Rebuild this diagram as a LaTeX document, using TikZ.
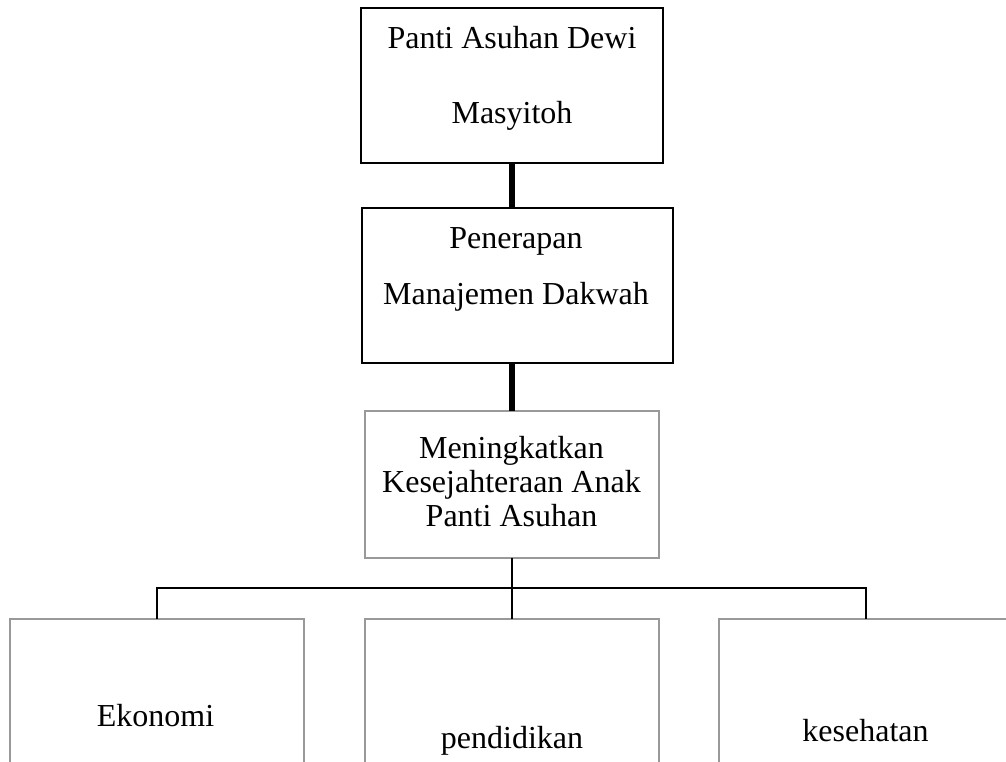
\documentclass[tikz,border=0pt]{standalone}
\usepackage{fontspec}
\setmainfont{Liberation Serif}
\begin{document}
\begin{tikzpicture}[x=0.75pt,y=-0.75pt,
  blackbox/.style={draw=black, line width=1.1pt, inner sep=0pt, outer sep=0pt, rectangle},
  graybox/.style={draw=black!40, line width=0.9pt, inner sep=0pt, outer sep=0pt, rectangle},
  label/.style={align=center, inner sep=0pt, anchor=base},
  thickline/.style={line width=3.9pt},
  thinline/.style={line width=1.7pt}]
\path[use as bounding box] (0,0) rectangle (1006,761);
\clip (0,0) rectangle (1006,761);
% boxes
\node[blackbox, minimum width=226.5pt, minimum height=116.25pt] (b1) at (512,85.5) {};
\node[blackbox, minimum width=233.25pt, minimum height=116.25pt] (b2) at (517.5,285.5) {};
\node[graybox, minimum width=220.5pt, minimum height=110.25pt] (b3) at (512,484.5) {};
\node[graybox, minimum width=220.5pt, minimum height=135.75pt] (b4) at (157,709.5) {};
\node[graybox, minimum width=220.5pt, minimum height=135.75pt] (b5) at (512,709.5) {};
\node[graybox, minimum width=220.5pt, minimum height=135.75pt] (b6) at (866,709.5) {};
% texts (base anchor = last line's baseline)
\node[label, font=\fontsize{24}{56.25}\selectfont] (t1) at (512,123) {Panti Asuhan Dewi\\Masyitoh};
\node[label, font=\fontsize{24}{42}\selectfont] (t2) at (516,304) {Penerapan\\Manajemen Dakwah};
\node[label, font=\fontsize{24}{25.5}\selectfont] (t3) at (511.5,526) {Meningkatkan\\Kesejahteraan Anak\\Panti Asuhan};
\node[label, font=\fontsize{24}{28}\selectfont] (t4) at (155.5,726) {Ekonomi};
\node[label, font=\fontsize{24}{28}\selectfont] (t5) at (512,748) {pendidikan};
\node[label, font=\fontsize{24}{28}\selectfont] (t6) at (865.5,741) {kesehatan};
% connectors
\draw[thickline] (b1.south) -- (b1.south |- b2.north);
\draw[thickline] (b2.south -| b3.north) -- (b3.north);
\coordinate (j) at (512,588);
\draw[thinline] (b3.south) -- (j);
\draw[thinline] (j) -- (b5.north);
\draw[thinline] (b4.north) -- (b4.north |- j) -- (b6.north |- j) -- (b6.north);
\end{tikzpicture}
\end{document}
